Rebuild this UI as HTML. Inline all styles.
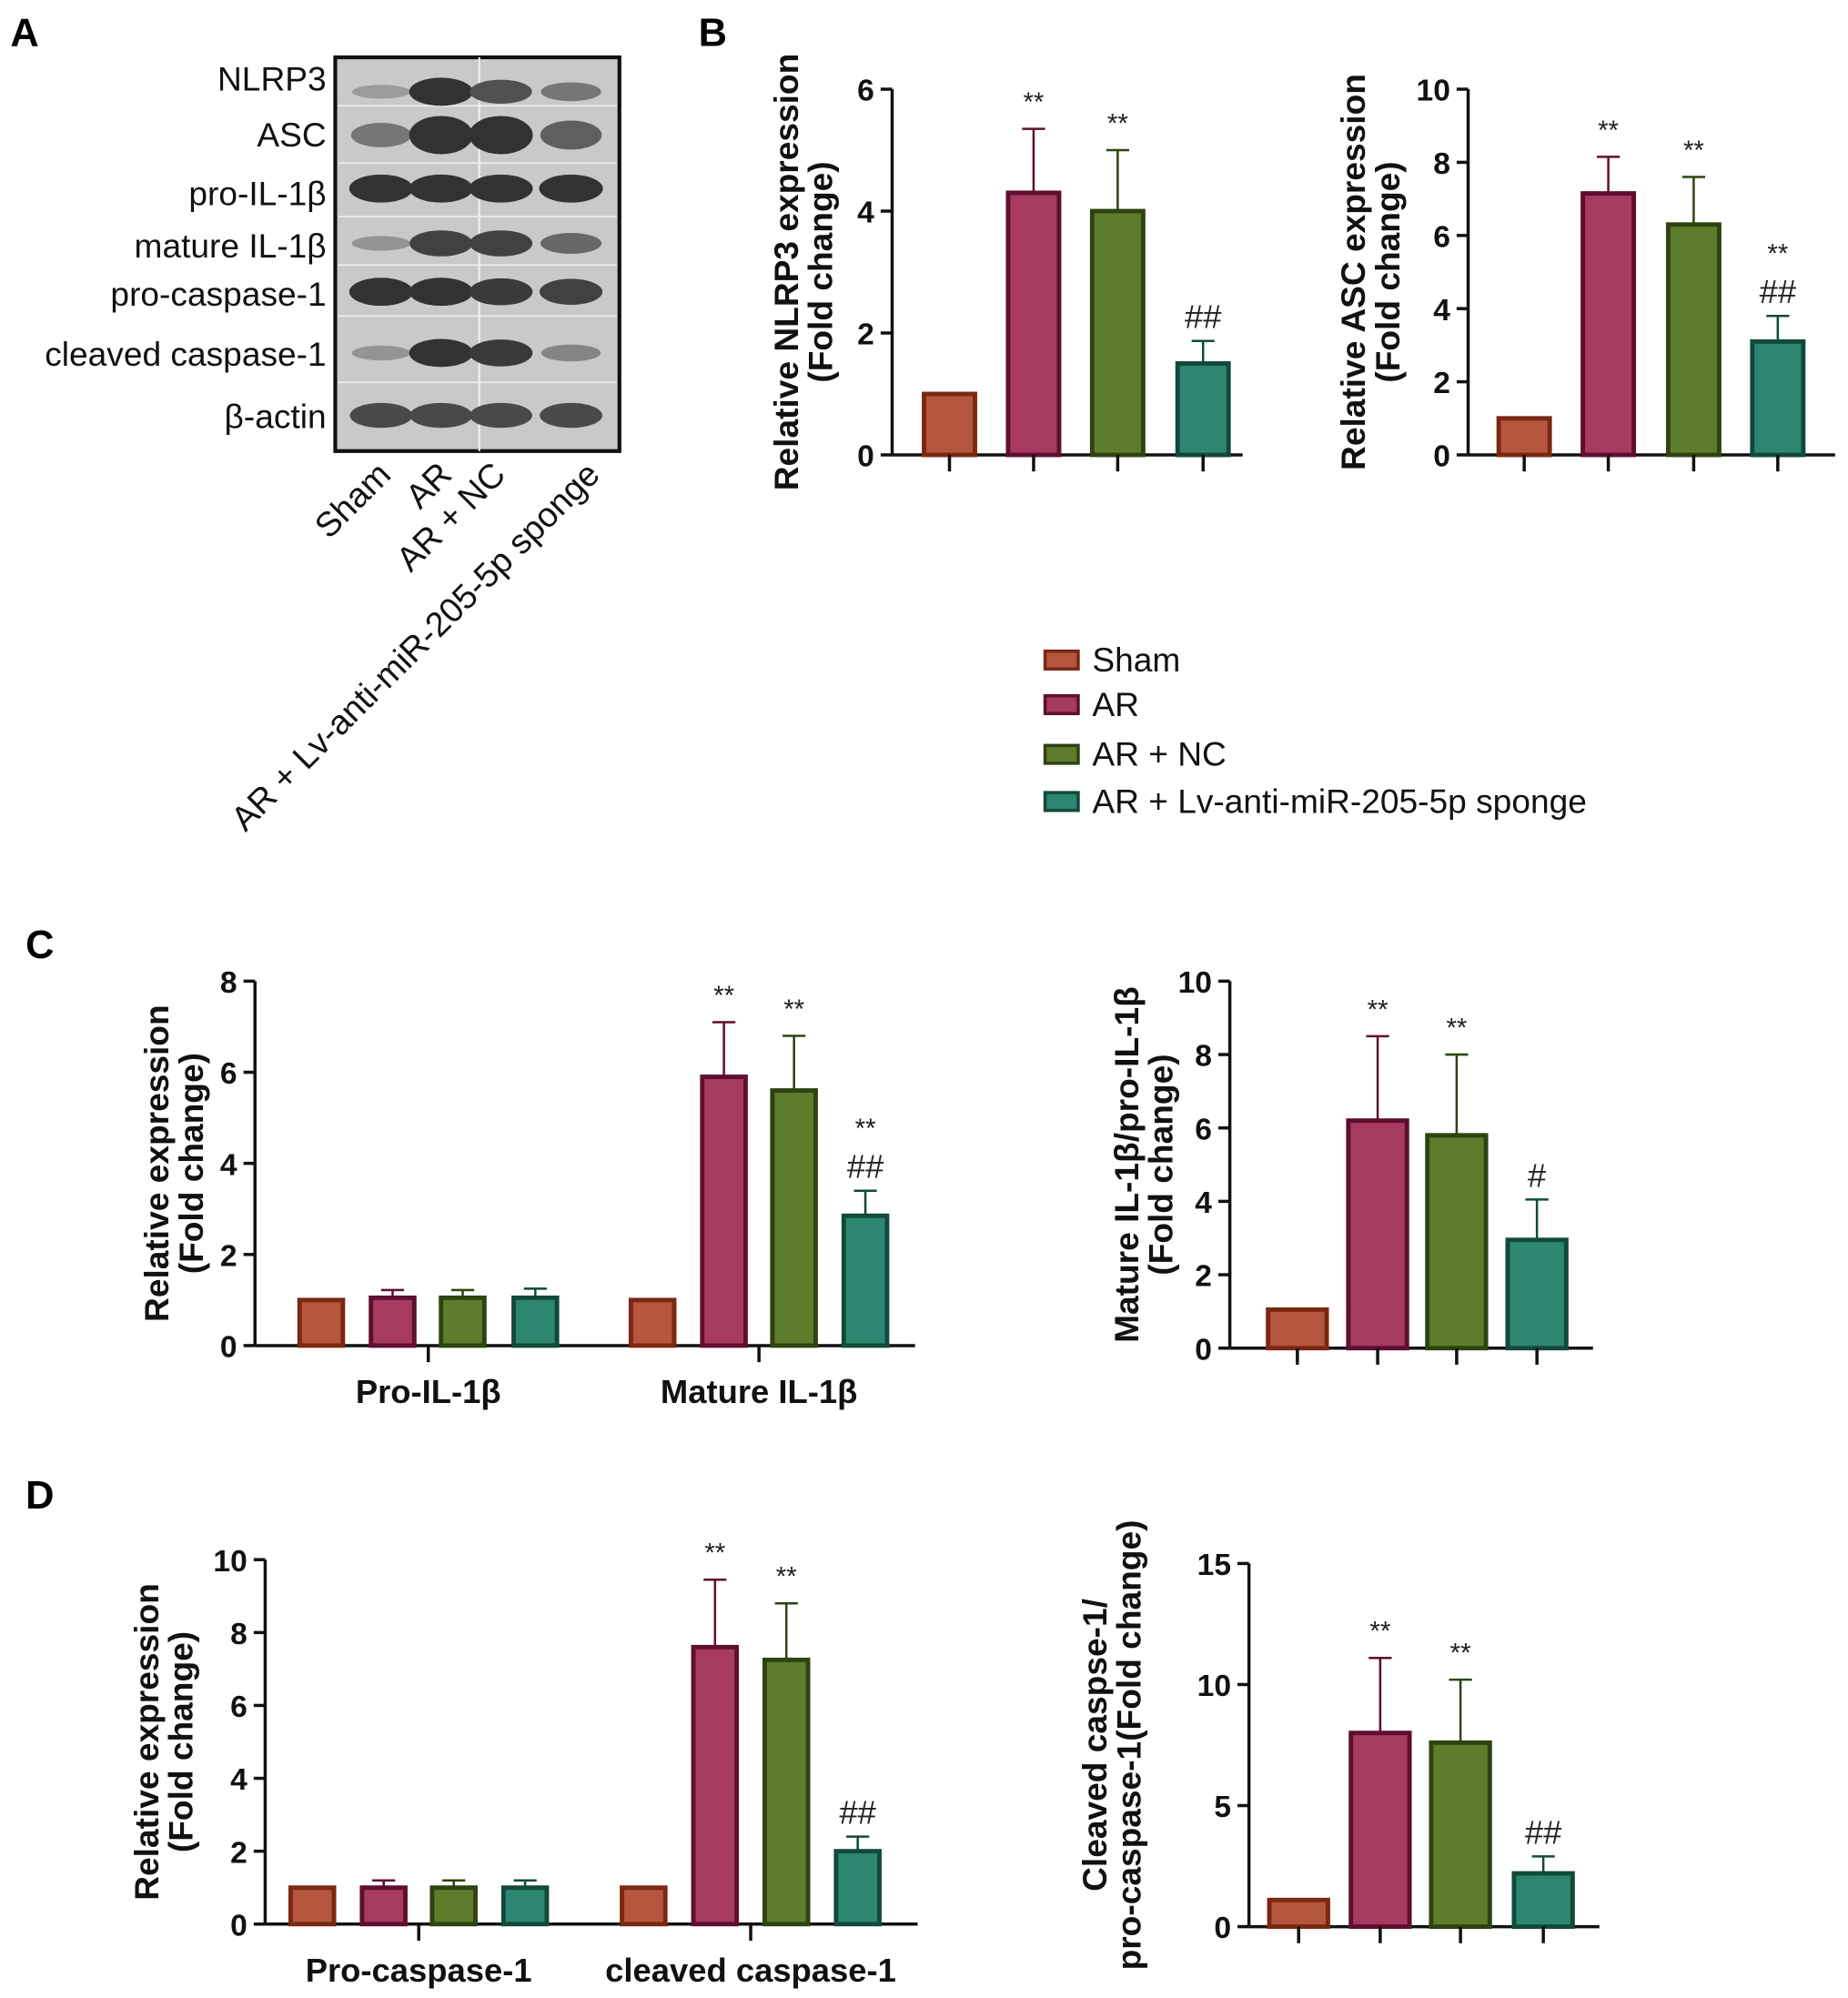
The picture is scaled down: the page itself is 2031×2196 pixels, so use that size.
<!DOCTYPE html>
<html><head><meta charset="utf-8"><style>
html,body{margin:0;padding:0;background:#fff}
svg{display:block;font-family:"Liberation Sans",Arial,sans-serif}
</style></head><body>
<svg id="fig" width="2031" height="2196" viewBox="0 0 1450 1568" xmlns="http://www.w3.org/2000/svg">
<rect width="1450" height="1568" fill="#fff"/>
<g font-weight="bold" font-size="31">
<text x="8" y="36">A</text>
<text x="548" y="36">B</text>
<text x="20" y="752">C</text>
<text x="20" y="1184">D</text>
</g>
<g id="blot"></g>
<g id="legend"></g>
<g id="charts"></g>
</svg>
<script>
const groups = ["Sham","AR","AR + NC","AR + Lv-anti-miR-205-5p sponge"];
const fills = ["#b5563e","#a63a5f","#5f7b2c","#2e8670"];
const strokes = ["#7a2812","#5e0f30","#2e4410","#114a3a"];
const blotRows = ["NLRP3","ASC","pro-IL-1β","mature IL-1β","pro-caspase-1","cleaved caspase-1","β-actin"];
const blotIntensity = [[0.3,1,0.8,0.55],[0.55,1,1,0.7],[1,1,1,1],[0.35,0.9,0.9,0.65],[1,1,0.95,0.9],[0.35,1,0.95,0.45],[0.85,0.85,0.85,0.85]];

const b1Values = [1,4.3,4.0,1.5];
const b1Err = [0,1.05,1.0,0.37];
const b1Ann = ["","**","**","##"];
const b2Values = [1,7.15,6.3,3.1];
const b2Err = [0,1.0,1.3,0.7];
const b2Ann = ["","**","**","**|##"];
const c1Categories = ["Pro-IL-1β","Mature IL-1β"];
const c1Values = [[1,1.05,1.05,1.05],[1,5.9,5.6,2.85]];
const c1Err = [[0,0.17,0.17,0.2],[0,1.2,1.2,0.55]];
const c1Ann = [["","","",""],["","**","**","**|##"]];
const c2Values = [1.05,6.2,5.8,2.95];
const c2Err = [0,2.3,2.2,1.1];
const c2Ann = ["","**","**","#"];
const d1Categories = ["Pro-caspase-1","cleaved caspase-1"];
const d1Values = [[1,1,1,1],[1,7.6,7.25,2]];
const d1Err = [[0,0.2,0.2,0.2],[0,1.85,1.55,0.4]];
const d1Ann = [["","","",""],["","**","**","##"]];
const d2Values = [1.1,8,7.6,2.2];
const d2Err = [0,3.1,2.6,0.7];
const d2Ann = ["","**","**","##"];

const NS="http://www.w3.org/2000/svg";
function mk(parent,tag,attrs,text){const e=document.createElementNS(NS,tag);for(const k in attrs)e.setAttribute(k,attrs[k]);if(text!==undefined)e.textContent=text;parent.appendChild(e);return e;}

// Blot
const blot=document.getElementById('blot');
const bx0=263,bx1=486,by0=45,by1=354;
mk(blot,'rect',{x:bx0,y:by0,width:bx1-bx0,height:by1-by0,fill:'#c9c9c9',stroke:'#111','stroke-width':3});
const rowY=[72,106,148,191,229,277,326];
const seps=[83,128,170,208,248,300];
const lanes=[299,346,393,448];
seps.forEach(y=>{mk(blot,'line',{x1:bx0+2,x2:bx1-2,y1:y,y2:y,stroke:'#eee','stroke-width':1.2});});
mk(blot,'line',{x1:376,x2:376,y1:by0,y2:by1,stroke:'#eee','stroke-width':1.5});
const labY=[62,106,152,193,231,278,327];
blotRows.forEach((r,i)=>{
  const t=mk(blot,'text',{x:256,y:labY[i]+9,'text-anchor':'end','font-size':26.5,fill:'#111'},r);
  
  
  lanes.forEach((lx,j)=>{const v=blotIntensity[i][j];const g=Math.round(200-v*150);
    const e=mk(blot,'ellipse',{cx:lx,cy:rowY[i],rx:22+v*3,ry:3+v*(i==1?12:8),fill:`rgb(${g},${g},${g})`});
    
    });
});
const laneLabelX=[308,356,398,472];
groups.forEach((gname,j)=>{
  const t=mk(blot,'text',{x:0,y:0,'text-anchor':'end','font-size':27,fill:'#111',transform:`translate(${laneLabelX[j]},${374}) rotate(-45)`},gname);
  
  
});

// Legend
const leg=document.getElementById('legend');
const legY=[518,553,592,629];
groups.forEach((g,i)=>{
  mk(leg,'rect',{x:820,y:legY[i]-7,width:26,height:14,fill:fills[i],stroke:strokes[i],'stroke-width':2.5});
  const t=mk(leg,'text',{x:857,y:legY[i]+9,'font-size':26.5,fill:'#111'},g);
  
  
});

const charts=document.getElementById('charts');
function chart(o){
  const g=mk(charts,'g',{});
  
  
  const y=v=>o.y0-(v/o.max)*(o.y0-o.yTop);
  mk(g,'line',{x1:o.ax,x2:o.ax,y1:o.yTop,y2:o.y0,stroke:'#111','stroke-width':2.5});
  mk(g,'line',{x1:o.ax,x2:o.axEnd,y1:o.y0,y2:o.y0,stroke:'#111','stroke-width':2.5});
  o.ticks.forEach(t=>{
    mk(g,'line',{x1:o.ax-9,x2:o.ax,y1:y(t),y2:y(t),stroke:'#111','stroke-width':2.5});
    const tl=mk(g,'text',{x:o.ax-14,y:y(t)+9,'text-anchor':'end','font-size':24,'font-weight':'bold',fill:'#111'},String(t));
    
    
  });
  const yt=mk(g,'text',{x:0,y:0,'text-anchor':'middle','font-size':26.5,'font-weight':'bold',fill:'#111',transform:`translate(${o.titleX},${(o.yTop+o.y0)/2}) rotate(-90)`});
  
  
  o.title.forEach((line,i)=>mk(yt,'tspan',{x:0,dy:i?27:0},line));
  const sets=o.grouped?o.values:[o.values];
  const errs=o.grouped?o.errs:[o.errs];
  const anns=o.grouped?o.anns:[o.anns];
  sets.forEach((vals,gi)=>{
    const xs=o.centers[gi];
    vals.forEach((v,i)=>{
      const cx=xs[i],w=o.bw;
      const top=y(v+errs[gi][i]);
      if(errs[gi][i]>0){
        mk(g,'line',{x1:cx,x2:cx,y1:y(v),y2:top,stroke:strokes[i],'stroke-width':1.8});
        mk(g,'line',{x1:cx-9,x2:cx+9,y1:top,y2:top,stroke:strokes[i],'stroke-width':1.8});
      }
      const r=mk(g,'rect',{x:cx-w/2,y:y(v),width:w,height:o.y0-y(v),fill:fills[i],stroke:strokes[i],'stroke-width':3.5});
      
      
      const a=anns[gi][i];
      if(a){
        const parts=a.split('|');
        parts.forEach((p,k)=>{
          const yy=top-14-(parts.length-1-k)*28;
          const at=mk(g,'text',{x:cx,y:p.startsWith('#')?yy+4:yy,'text-anchor':'middle','font-size':p.startsWith('#')?26:21,fill:'#222'},p);
          
          
        });
      }
    });
    if(o.grouped){
      const mid=(xs[0]+xs[3])/2;
      mk(g,'line',{x1:mid,x2:mid,y1:o.y0,y2:o.y0+13,stroke:'#111','stroke-width':2.5});
      const cl=mk(g,'text',{x:mid,y:o.y0+45,'text-anchor':'middle','font-size':26,'font-weight':'bold',fill:'#111'},o.cats[gi]);
      
      
    } else {
      xs.forEach(cx=>mk(g,'line',{x1:cx,x2:cx,y1:o.y0,y2:o.y0+13,stroke:'#111','stroke-width':2.5}));
    }
  });
}
chart({name:'nlrp3-chart',ax:700,axEnd:975,yTop:70,y0:357,max:6,ticks:[0,2,4,6],bw:40,titleX:626,title:['Relative NLRP3 expression','(Fold change)'],centers:[[745,811,877,944]],values:b1Values,errs:b1Err,anns:b1Ann});
chart({name:'asc-chart',ax:1152,axEnd:1440,yTop:70,y0:357,max:10,ticks:[0,2,4,6,8,10],bw:40,titleX:1071,title:['Relative ASC expression','(Fold change)'],centers:[[1196,1262,1329,1395]],values:b2Values,errs:b2Err,anns:b2Ann});
chart({name:'il1b-expression-chart',grouped:true,ax:200,axEnd:718,yTop:770,y0:1056,max:8,ticks:[0,2,4,6,8],bw:34,titleX:132,title:['Relative expression','(Fold change)'],centers:[[252,308,363,420],[512,568,623,679]],cats:c1Categories,values:c1Values,errs:c1Err,anns:c1Ann});
chart({name:'il1b-ratio-chart',ax:965,axEnd:1250,yTop:770,y0:1058,max:10,ticks:[0,2,4,6,8,10],bw:46,titleX:893,title:['Mature IL-1β/pro-IL-1β','(Fold change)'],centers:[[1018,1081,1143,1206]],values:c2Values,errs:c2Err,anns:c2Ann});
chart({name:'caspase-expression-chart',grouped:true,ax:208,axEnd:720,yTop:1224,y0:1510,max:10,ticks:[0,2,4,6,8,10],bw:34,titleX:124,title:['Relative expression','(Fold change)'],centers:[[245,301,356,412],[505,561,617,673]],cats:d1Categories,values:d1Values,errs:d1Err,anns:d1Ann});
chart({name:'caspase-ratio-chart',ax:980,axEnd:1255,yTop:1227,y0:1512,max:15,ticks:[0,5,10,15],bw:46,titleX:868,title:['Cleaved caspse-1/','pro-caspase-1(Fold change)'],centers:[[1019,1083,1146,1211]],values:d2Values,errs:d2Err,anns:d2Ann});
</script>
</body></html>
